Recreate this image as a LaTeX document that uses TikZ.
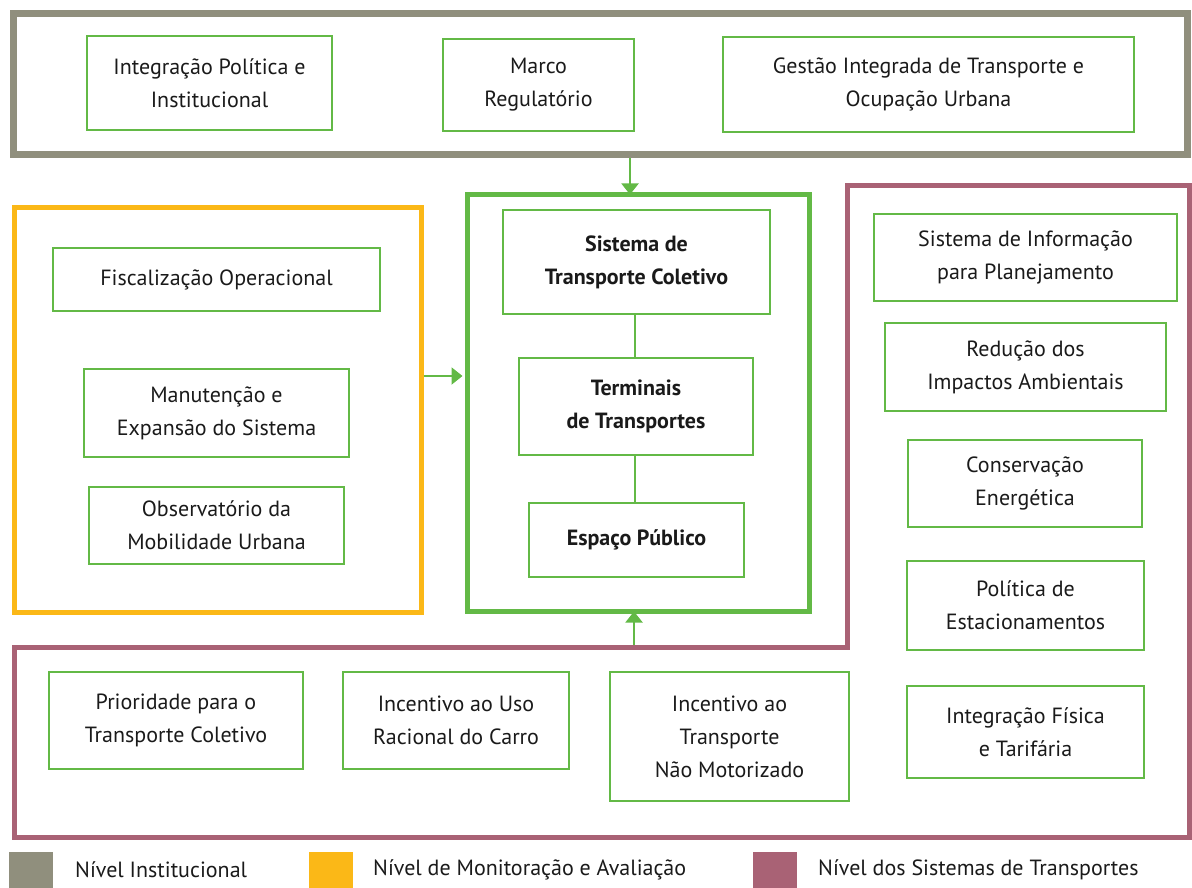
\documentclass[tikz,border=0pt]{standalone}
\usepackage{fontspec}
\setmainfont{PT Sans}
\usetikzlibrary{arrows.meta}
\definecolor{instgray}{HTML}{908F7D}
\definecolor{monyellow}{HTML}{FBB817}
\definecolor{boxgreen}{HTML}{63B946}
\definecolor{syspurple}{HTML}{A96275}
\definecolor{txt}{HTML}{1A1A1A}
\tikzset{
  box/.style={draw=boxgreen, line width=2pt, align=center, inner sep=0pt, text=txt,
    font=\fontsize{22}{33}\selectfont},
  boldbox/.style={box, font=\fontsize{22}{33}\selectfont\bfseries},
  frame/.style={line width=#1, inner sep=0pt},
  arr/.style={draw=boxgreen, line width=2pt, -{Triangle[width=17pt,length=11pt]}},
  link/.style={draw=boxgreen, line width=2pt},
  legsq/.style={inner sep=0pt, minimum width=44pt, minimum height=36pt},
  legtxt/.style={anchor=west, inner sep=0pt, text=txt, font=\fontsize{22}{26}\selectfont}
}
\begin{document}
\begin{tikzpicture}[x=1pt,y=-1pt]
\useasboundingbox (0,0) rectangle (1192,888);
% frames
\node[draw=instgray, frame=7pt, minimum width=1174pt, minimum height=141pt] (inst) at (600,84.5) {};
\node[draw=monyellow, frame=5pt, minimum width=407pt, minimum height=405pt] (mon) at (217.5,409.5) {};
\node[draw=boxgreen, frame=5pt, minimum width=342pt, minimum height=416pt] (core) at (638,403) {};
\draw[draw=syspurple, line width=5pt, line join=miter] (847,186) -- (1189,186) -- (1189,837) -- (14,837) -- (14,647) -- (847,647) -- cycle;
\coordinate (sysin) at (634,645);
% top boxes
\node[box, minimum width=245pt, minimum height=94pt] (t1) at (209.5,83) {Integração Política e\\Institucional};
\node[box, minimum width=191pt, minimum height=92pt] (t2) at (538.5,85) {Marco\\Regulatório};
\node[box, minimum width=411pt, minimum height=95pt] (t3) at (928.5,84.5) {Gestão Integrada de Transporte e\\Ocupação Urbana};
% core boxes
\node[boldbox, minimum width=267pt, minimum height=104pt] (c1) at (636.5,262) {Sistema de\\Transporte Coletivo};
\node[boldbox, minimum width=234pt, minimum height=97pt] (c2) at (636,406.5) {Terminais\\de Transportes};
\node[boldbox, minimum width=215pt, minimum height=74pt] (c3) at (636.5,540) {Espaço Público};
% left boxes
\node[box, minimum width=327pt, minimum height=63pt] (l1) at (216.5,279.5) {Fiscalização Operacional};
\node[box, minimum width=265pt, minimum height=88pt] (l2) at (216.5,413) {Manutenção e\\Expansão do Sistema};
\node[box, minimum width=255pt, minimum height=77pt] (l3) at (216.5,525.5) {Observatório da\\Mobilidade Urbana};
% right boxes
\node[box, minimum width=303pt, minimum height=87pt] (r1) at (1025.5,257.5) {Sistema de Informação\\para Planejamento};
\node[box, minimum width=281pt, minimum height=88pt] (r2) at (1025.5,367) {Redução dos\\Impactos Ambientais};
\node[box, minimum width=234pt, minimum height=87pt] (r3) at (1025,483.5) {Conservação\\Energética};
\node[box, minimum width=237pt, minimum height=89pt] (r4) at (1025.5,605.5) {Política de\\Estacionamentos};
\node[box, minimum width=237pt, minimum height=92pt] (r5) at (1025.5,732) {Integração Física\\e Tarifária};
% bottom boxes
\node[box, minimum width=254pt, minimum height=97pt] (b1) at (176,720.5) {Prioridade para o\\Transporte Coletivo};
\node[box, minimum width=226pt, minimum height=97pt] (b2) at (456,720.5) {Incentivo ao Uso\\Racional do Carro};
\node[box, minimum width=239pt, minimum height=129pt] (b3) at (729.5,736.5) {Incentivo ao\\Transporte\\Não Motorizado};
% connectors
\coordinate (ax1) at (630,0);
\coordinate (ay2) at (0,376);
\draw[arr] (inst.south -| ax1) -- ([yshift=-2pt]core.north -| ax1);
\draw[arr] (mon.east |- ay2) -- ([xshift=-2pt]core.west |- ay2);
\draw[arr] (sysin) -- ([yshift=2pt]core.south -| sysin);
\draw[link] (c1.south -| 635,0) -- (c2.north -| 635,0);
\draw[link] (c2.south -| 635,0) -- (c3.north -| 635,0);
% legend
\node[legsq, fill=instgray] (lg1) at (31,870) {};
\node[legtxt] (lt1) at (75,870) {Nível Institucional};
\node[legsq, fill=monyellow] (lg2) at (330.5,870) {};
\node[legtxt] (lt2) at (373,870) {Nível de Monitoração e Avaliação};
\node[legsq, fill=syspurple] (lg3) at (775,870) {};
\node[legtxt] (lt3) at (818,870) {Nível dos Sistemas de Transportes};
\end{tikzpicture}
\end{document}
